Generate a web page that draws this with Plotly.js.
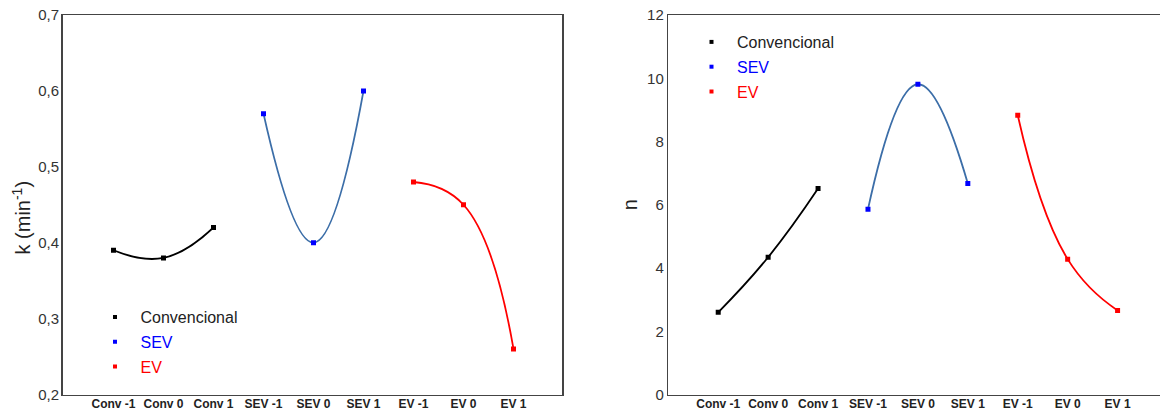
<!DOCTYPE html>
<html>
<head>
<meta charset="utf-8">
<script src="https://cdn.plot.ly/plotly-3.0.1.min.js"></script>
<style>
html, body { margin: 0; padding: 0; overflow: hidden; background: #fff; }
#chart { width: 1172px; height: 411px; }
</style>
</head>
<body>
<div id="chart"></div>
<script>
const categories = ['Conv -1', 'Conv 0', 'Conv 1', 'SEV -1', 'SEV 0', 'SEV 1', 'EV -1', 'EV 0', 'EV 1'];
const convCats = ['Conv -1', 'Conv 0', 'Conv 1'];
const sevCats = ['SEV -1', 'SEV 0', 'SEV 1'];
const evCats = ['EV -1', 'EV 0', 'EV 1'];

const kConv = [0.39, 0.38, 0.42];
const kSev = [0.57, 0.40, 0.60];
const kEv = [0.48, 0.45, 0.26];

const nConv = [2.6, 4.34, 6.51];
const nSev = [5.86, 9.81, 6.67];
const nEv = [8.83, 4.28, 2.66];

const seriesNames = ['Convencional', 'SEV', 'EV'];
const markerColors = ['#000000', '#0000ff', '#ff0000'];
const lineColors = ['#000000', '#3c6ea8', '#ff0000'];
const textColors = ['#222222', '#0000ff', '#ff0000'];

function dataTrace(x, y, i, xa, ya) {
  return {
    x: x, y: y, xaxis: xa, yaxis: ya,
    type: 'scatter', mode: 'lines+markers',
    line: { color: lineColors[i], width: 1.8, shape: 'spline', smoothing: 1.3 },
    marker: { symbol: 'square', size: 5, color: markerColors[i] },
    showlegend: false, hoverinfo: 'x+y'
  };
}
function legendTrace(i, xa, ya, leg) {
  return {
    x: [null], y: [null], xaxis: xa, yaxis: ya,
    type: 'scatter', mode: 'markers',
    marker: { symbol: 'square', size: 4, color: markerColors[i] },
    name: '<span style="color:' + textColors[i] + '">' + seriesNames[i] + '</span>',
    legend: leg, legendgroup: leg + '_' + i, showlegend: true
  };
}

const traces = [
  dataTrace(convCats, kConv, 0, 'x', 'y'),
  dataTrace(sevCats, kSev, 1, 'x', 'y'),
  dataTrace(evCats, kEv, 2, 'x', 'y'),
  dataTrace(convCats, nConv, 0, 'x2', 'y2'),
  dataTrace(sevCats, nSev, 1, 'x2', 'y2'),
  dataTrace(evCats, nEv, 2, 'x2', 'y2'),
  legendTrace(0, 'x', 'y', 'legend'),
  legendTrace(1, 'x', 'y', 'legend'),
  legendTrace(2, 'x', 'y', 'legend'),
  legendTrace(0, 'x2', 'y2', 'legend2'),
  legendTrace(1, 'x2', 'y2', 'legend2'),
  legendTrace(2, 'x2', 'y2', 'legend2')
];

const W = 1172, H = 411;
const yDom = [(H - 394.5) / H, (H - 15) / H];
const frame = { showline: true, mirror: true, linecolor: '#444', linewidth: 1.5, showgrid: false, zeroline: false, ticks: '' };

function xAxis(dom, rng) {
  return Object.assign({}, frame, {
    domain: dom, type: 'category', categoryorder: 'array', categoryarray: categories,
    range: rng, tickfont: { family: 'Liberation Sans, Arial', size: 12, color: '#222', weight: 'bold' },
    ticklabelstandoff: -2
  });
}
function legendCfg(x, y) {
  return {
    x: x, y: y, xanchor: 'left', yanchor: 'top', bgcolor: 'rgba(0,0,0,0)',
    font: { family: 'Liberation Sans, Arial', size: 16, color: '#222' },
    itemwidth: 41, tracegroupgap: 1, traceorder: 'grouped'
  };
}

const layout = {
  width: W, height: H,
  margin: { l: 0, r: 0, t: 0, b: 0 },
  paper_bgcolor: '#fff', plot_bgcolor: '#fff',
  separators: ', ',
  font: { family: 'Liberation Sans, Arial', color: '#333' },
  xaxis: xAxis([62.5 / W, 562 / W], [-1.02, 8.97]),
  xaxis2: xAxis([668.3 / W, 1166 / W], [-1.0, 8.97]),
  yaxis: Object.assign({}, frame, {
    domain: yDom, range: [0.2, 0.7], dtick: 0.1, tickformat: '.1f',
    tickfont: { family: 'Liberation Sans, Arial', size: 15, color: '#333' },
    ticklabelstandoff: -1
  }),
  yaxis2: Object.assign({}, frame, {
    domain: yDom, anchor: 'x2', range: [0, 12], dtick: 2,
    tickfont: { family: 'Liberation Sans, Arial', size: 15, color: '#333' },
    ticklabelstandoff: 0,
    title: { text: 'n', font: { family: 'Liberation Sans, Arial', size: 20, color: '#222' }, standoff: 4 }
  }),
  annotations: [{
    text: 'k (min<sup>-1</sup>)', xref: 'paper', yref: 'paper',
    x: 20.5 / W, y: 1 - 218 / H, xanchor: 'center', yanchor: 'middle',
    textangle: -90, showarrow: false,
    font: { family: 'Liberation Sans, Arial', size: 20, color: '#222' }
  }],
  legend: legendCfg(89.5 / W, 1 - 300 / H),
  legend2: legendCfg(686 / W, 1 - 25 / H),
  showlegend: true
};
layout.xaxis.anchor = 'y';
layout.xaxis2.anchor = 'y2';

Plotly.newPlot('chart', traces, layout, { displayModeBar: false, staticPlot: true });
</script>
</body>
</html>
